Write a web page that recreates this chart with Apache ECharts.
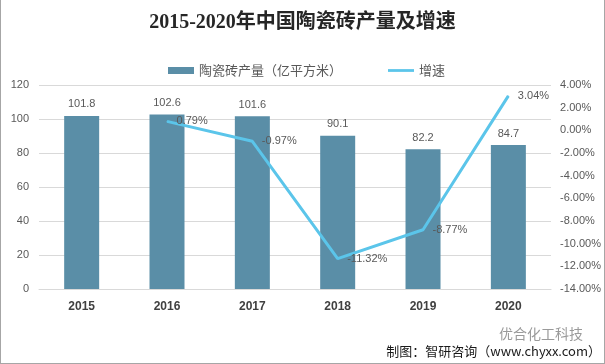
<!DOCTYPE html>
<html><head><meta charset="utf-8">
<script src="https://cdn.jsdelivr.net/npm/echarts@6/dist/echarts.min.js"></script>
<style>html,body{margin:0;padding:0;background:#fff}#c{width:605px;height:364px;box-sizing:border-box;border:1px solid #a6a6a6;border-top:none}</style>
</head><body><div id="c"></div>
<script>
const categories = ['2015','2016','2017','2018','2019','2020'];
const output = [101.8, 102.6, 101.6, 90.1, 82.2, 84.7];
const growth = [null, 0.79, -0.97, -11.32, -8.77, 3.04];
const leftTicks = {min: 0, max: 120, interval: 20};
const rightTicks = {min: -14, max: 4, interval: 2};
const seriesNames = ['陶瓷砖产量（亿平方米）', '增速'];

const chart = echarts.init(document.getElementById('c'), null, {renderer: 'canvas'});
const txt = '#595959';
chart.setOption({
  animation: false,
  backgroundColor: '#fff',
  title: {
    text: '2015-2020年中国陶瓷砖产量及增速',
    left: 'center', top: 8,
    textStyle: {fontFamily: 'Liberation Serif, Noto Sans CJK SC', fontWeight: 'bold', fontSize: 20, color: '#262626'}
  },
  legend: {
    top: 59, left: 162, itemGap: 46, itemWidth: 26, itemHeight: 7,
    textStyle: {fontFamily: 'Noto Sans CJK SC', fontSize: 13, color: txt},
    data: [{name: seriesNames[0], icon: 'rect'},
           {name: seriesNames[1], icon: 'path://M0,0L28,0L28,3L0,3Z'}]
  },
  grid: {left: 38, right: 52, top: 85, bottom: 74},
  xAxis: {
    type: 'category', data: categories,
    axisTick: {show: false},
    axisLine: {lineStyle: {color: '#d9d9d9'}},
    axisLabel: {color: '#404040', fontWeight: 'bold', fontSize: 12, margin: 12, fontFamily: 'Liberation Sans'}
  },
  yAxis: [{
    type: 'value', min: leftTicks.min, max: leftTicks.max, interval: leftTicks.interval,
    axisLine: {show: false}, axisTick: {show: false},
    splitLine: {lineStyle: {color: '#d9d9d9'}},
    axisLabel: {color: txt, fontSize: 11, margin: 10, fontFamily: 'Liberation Sans'}
  }, {
    type: 'value', min: rightTicks.min, max: rightTicks.max, interval: rightTicks.interval,
    axisLine: {show: false}, axisTick: {show: false}, splitLine: {show: false},
    axisLabel: {color: txt, fontSize: 11, margin: 9, fontFamily: 'Liberation Sans',
      formatter: v => v.toFixed(2) + '%'}
  }],
  series: [{
    name: seriesNames[0], type: 'bar', data: output, barWidth: 35,
    itemStyle: {color: '#5a8ea7'},
    label: {show: true, position: 'top', distance: 6, color: txt, fontSize: 11, fontFamily: 'Liberation Sans'}
  }, {
    name: seriesNames[1], type: 'line', yAxisIndex: 1, data: growth,
    symbol: 'circle', symbolSize: 1, showSymbol: true,
    lineStyle: {color: '#5bc5ea', width: 3}, itemStyle: {color: '#5bc5ea'},
    label: {show: true, position: 'right', distance: 9, color: txt, fontSize: 11, fontFamily: 'Liberation Sans',
      formatter: p => p.value.toFixed(2) + '%'}
  }],
  graphic: [{
    type: 'text', right: 3, top: 345,
    style: {text: '制图：智研咨询（www.chyxx.com）', font: '13px "Noto Sans CJK SC"', fill: '#1a1a1a'}
  }, {
    type: 'text', left: 498, top: 327,
    style: {text: '优合化工科技', font: '14px "Noto Sans CJK SC"', fill: '#9a9a9a'}
  }]
});
</script></body></html>
